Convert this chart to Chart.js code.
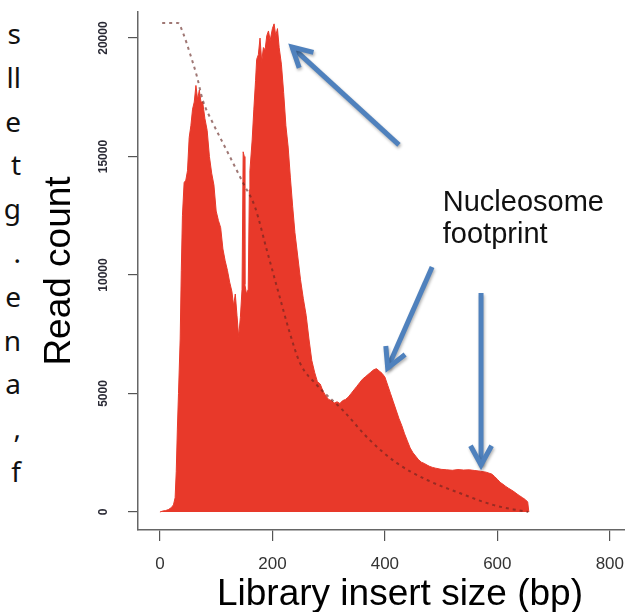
<!DOCTYPE html>
<html>
<head>
<meta charset="utf-8">
<title>Library insert size</title>
<script src="https://cdn.jsdelivr.net/npm/chart.js@4.4.1/dist/chart.umd.min.js"></script>
<style>
  html, body { margin: 0; padding: 0; background: #fff; }
  #wrap { position: relative; width: 625px; height: 612px; overflow: hidden; }
  #chartCanvas { position: absolute; left: 0; top: 0; }
  .side-text {
    position: absolute; left: 0; top: 12px; width: 21px;
    font-family: "Noto Sans", sans-serif; font-size: 28px; line-height: 43.8px;
    text-align: right; color: #111; white-space: pre;
  }
</style>
</head>
<body>
<div id="wrap">
  <div class="side-text" id="sideText"></div>
  <canvas id="chartCanvas" width="625" height="612"></canvas>
</div>
<script>
// Histogram of insert sizes (bp) and read counts
const insertSize = [
  0, 5, 10, 15, 20, 24, 27, 29, 31, 33,
  36, 38, 40, 43, 46, 49, 52, 55, 58, 61,
  64, 67, 70, 73, 76, 80, 84, 88, 92, 96,
  100, 104, 108, 112, 116, 120, 124, 128, 131, 134,
  137, 140, 143, 146, 147, 148, 150, 151, 154, 157,
  159, 160, 164, 167, 170, 172, 175, 178, 181, 184,
  187, 190, 193, 196, 200, 203, 206, 209, 212, 216,
  220, 224, 228, 232, 236, 240, 245, 250, 255, 260,
  265, 270, 275, 280, 285, 290, 295, 300, 305, 310,
  315, 320, 325, 330, 335, 340, 345, 350, 355, 360,
  365, 370, 375, 380, 385, 390, 395, 400, 405, 410,
  415, 420, 425, 430, 435, 440, 445, 450, 455, 460,
  465, 470, 475, 480, 485, 490, 500, 510, 520, 530,
  540, 550, 560, 570, 580, 590, 595, 600, 605, 610,
  615, 620, 625, 630, 635, 640, 645, 650, 654, 656
];
const readCount = [
  0, 40, 60, 100, 180, 300, 600, 1700, 3500, 5000,
  7300, 10200, 12500, 13900, 14000, 14400, 15800, 16300, 17000, 17300,
  18000, 17400, 17800, 17300, 17300, 16600, 16100, 15000, 14300, 13800,
  12700, 12300, 12000, 11100, 10600, 10200, 9700, 9300, 8700, 9200,
  8300, 7400, 8200, 9400, 9400, 15200, 15000, 9600, 9200, 9400,
  13600, 14400, 15700, 17000, 18200, 19100, 19300, 20000, 19000, 19600,
  19500, 20100, 20300, 19900, 20400, 20600, 20100, 20400, 19600, 18900,
  17700, 16300, 15400, 14100, 12900, 11800, 10800, 9800, 9000, 8300,
  7300, 6400, 5900, 5500, 5400, 5100, 4900, 4750, 4700, 4600,
  4650, 4580, 4700, 4750, 4850, 5000, 5150, 5300, 5450, 5600,
  5700, 5800, 5900, 6000, 6050, 5950, 5850, 5700, 5350, 5000,
  4650, 4300, 3950, 3650, 3300, 3000, 2700, 2500, 2350, 2200,
  2100, 2050, 1980, 1920, 1880, 1850, 1800, 1780, 1760, 1790,
  1770, 1780, 1750, 1720, 1680, 1600, 1500, 1380, 1250, 1170,
  1080, 1000, 930, 850, 760, 680, 600, 520, 420, 0
];

// Dashed reference curve
const curveSize = [4, 32, 41, 53, 66, 76, 94, 112, 130, 148, 169, 190, 213, 231, 249, 279, 325, 373, 421, 475, 533, 592, 635, 655];
const curveCount = [20640, 20640, 20220, 19380, 18360, 17390, 16420, 15570, 14730, 13880, 12870, 11060, 9070, 7550, 6290, 5360, 4300, 3040, 2070, 1350, 800, 300, 80, 0];

const xTickValues = [0, 200, 400, 600, 800];
const yTickValues = [0, 5000, 10000, 15000, 20000];

// Arrows: [tailX, tailY, tipX, tipY] in data units
const arrows = [
  [425, 15490, 235, 19620],
  [484, 10340, 405, 6080],
  [571, 9240, 571, 1980]
];
const noteLines = ['Nucleosome', 'footprint'];
const sideFragments = ['s', 'll', 'e', 't', 'g', '.', 'e', 'n', 'a', ',', 'f'];

const FONT = '"Liberation Sans", Arial, sans-serif';
const RED = '#e8392a';
const BLUE = '#4f81bd';

document.getElementById('sideText').textContent = sideFragments.join('\n');

function drawArrow(ctx, x1, y1, x2, y2) {
  const ang = Math.atan2(y1 - y2, x1 - x2);
  const head = 22;
  const spread = 0.5;
  ctx.beginPath();
  ctx.moveTo(x1, y1);
  ctx.lineTo(x2, y2);
  ctx.stroke();
  ctx.beginPath();
  ctx.moveTo(x2 + head * Math.cos(ang + spread), y2 + head * Math.sin(ang + spread));
  ctx.lineTo(x2, y2);
  ctx.lineTo(x2 + head * Math.cos(ang - spread), y2 + head * Math.sin(ang - spread));
  ctx.stroke();
}

const extras = {
  id: 'extras',
  afterDraw(chart) {
    const ctx = chart.ctx;
    const xs = chart.scales.x;
    const ys = chart.scales.y;

    // rotated y tick labels
    ctx.save();
    ctx.fillStyle = '#2a2a35';
    ctx.font = 'bold 12px ' + FONT;
    ctx.textAlign = 'center';
    ctx.textBaseline = 'middle';
    yTickValues.forEach(v => {
      ctx.save();
      ctx.translate(104, ys.getPixelForValue(v));
      ctx.rotate(-Math.PI / 2);
      ctx.fillText(String(v), 0, 0);
      ctx.restore();
    });
    ctx.restore();

    // x axis title
    ctx.save();
    ctx.fillStyle = '#000';
    ctx.font = '37px ' + FONT;
    ctx.textAlign = 'center';
    ctx.textBaseline = 'alphabetic';
    ctx.fillText('Library insert size (bp)', 400, 605);
    ctx.restore();

    // annotation text
    ctx.save();
    ctx.fillStyle = '#111';
    ctx.font = '29px ' + FONT;
    ctx.textAlign = 'left';
    const tx = xs.getPixelForValue(503);
    noteLines.forEach((t, i) => {
      ctx.fillText(t, tx, ys.getPixelForValue(12700) + i * 32);
    });
    ctx.restore();

    // arrows
    ctx.save();
    ctx.strokeStyle = BLUE;
    ctx.lineWidth = 5;
    ctx.lineJoin = 'miter';
    ctx.shadowColor = 'rgba(0,0,0,0.3)';
    ctx.shadowBlur = 3;
    ctx.shadowOffsetX = 1;
    ctx.shadowOffsetY = 2;
    arrows.forEach(a => {
      drawArrow(ctx,
        xs.getPixelForValue(a[0]), ys.getPixelForValue(a[1]),
        xs.getPixelForValue(a[2]), ys.getPixelForValue(a[3]));
    });
    ctx.restore();
  }
};

const ctx = document.getElementById('chartCanvas').getContext('2d');
const chartInstance = new Chart(ctx, {
  type: 'line',
  data: {
    datasets: [
      {
        label: 'curve',
        data: curveSize.map((x, i) => ({ x: x, y: curveCount[i] })),
        borderColor: 'rgba(100,35,30,0.62)',
        borderWidth: 2,
        borderDash: [3, 4],
        pointRadius: 0,
        fill: false,
        cubicInterpolationMode: 'monotone',
        order: 0
      },
      {
        label: 'reads',
        data: insertSize.map((x, i) => ({ x: x, y: readCount[i] })),
        borderColor: RED,
        backgroundColor: RED,
        borderWidth: 1,
        pointRadius: 0,
        tension: 0,
        fill: 'origin',
        order: 1
      }
    ]
  },
  options: {
    responsive: false,
    animation: false,
    events: [],
    layout: { padding: { top: 12, right: 0, left: 0, bottom: 0 } },
    plugins: {
      legend: { display: false },
      tooltip: { enabled: false },
      title: { display: false }
    },
    scales: {
      x: {
        type: 'linear',
        min: -39,
        max: 827,
        afterBuildTicks: s => { s.ticks = xTickValues.map(v => ({ value: v })); },
        afterFit: s => { s.height = 82; s.paddingLeft = 0; s.paddingRight = 0; },
        grid: { drawOnChartArea: false, drawTicks: true, tickLength: 11, color: '#555', lineWidth: 1.2 },
        border: { display: true, color: '#666', width: 1.5 },
        ticks: {
          font: { family: FONT, size: 17 },
          color: '#333',
          padding: 13,
          maxRotation: 0,
          autoSkip: false
        }
      },
      y: {
        type: 'linear',
        min: -760,
        max: 21100,
        afterBuildTicks: s => { s.ticks = yTickValues.map(v => ({ value: v })); },
        afterFit: s => { s.width = 138; s.paddingTop = 0; s.paddingBottom = 0; },
        grid: { drawOnChartArea: false, drawTicks: true, tickLength: 10, color: '#555', lineWidth: 1.2 },
        border: { display: true, color: '#666', width: 1.5 },
        ticks: { display: false },
        title: {
          display: true,
          text: 'Read count',
          color: '#000',
          font: { family: FONT, size: 37 },
          padding: { top: 38, bottom: 0 }
        }
      }
    }
  },
  plugins: [extras]
});
</script>
</body>
</html>
